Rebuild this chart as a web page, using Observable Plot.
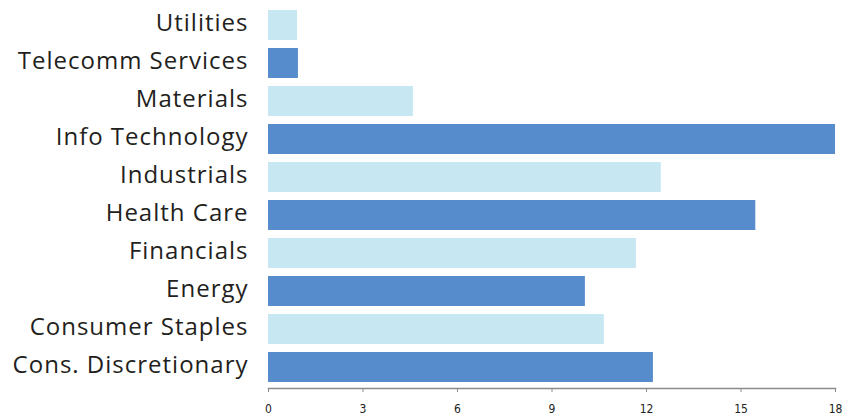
<!DOCTYPE html>
<html>
<head>
<meta charset="utf-8">
<script src="https://cdn.jsdelivr.net/npm/d3@7"></script>
<script src="https://cdn.jsdelivr.net/npm/@observablehq/plot@0.6"></script>
<style>
  html, body { margin: 0; padding: 0; background: #fff; }
  #chart { width: 842px; height: 417px; }
</style>
</head>
<body>
<div id="chart"></div>
<script>
const sectors = ["Utilities", "Telecomm Services", "Materials", "Info Technology", "Industrials", "Health Care", "Financials", "Energy", "Consumer Staples", "Cons. Discretionary"];
const values = [0.92, 0.95, 4.6, 18.0, 12.47, 15.47, 11.68, 10.06, 10.66, 12.22];
const shades = ["light", "dark", "light", "dark", "light", "dark", "light", "dark", "light", "dark"];
const xTicks = [0, 3, 6, 9, 12, 15, 18];

const data = sectors.map((s, i) => ({sector: s, value: values[i], shade: shades[i]}));

const chart = Plot.plot({
  width: 842,
  height: 417,
  marginLeft: 268,
  marginRight: 7,
  marginTop: 1,
  marginBottom: 29,
  style: {background: "#fff"},
  x: {domain: [0, 18]},
  y: {domain: sectors, range: [1, 391], padding: 0.215},
  color: {domain: ["light", "dark"], range: ["#c7e8f3", "#568ccb"]},
  marks: [
    Plot.barX(data, {y: "sector", x: "value", fill: "shade"}),
    Plot.axisY({tickSize: 0, tickPadding: 20, dy: -2, fontSize: 24, fontFamily: "Open Sans", fill: "#231f20", label: null}),
    Plot.axisX({ticks: xTicks, tickFormat: d => String(d), tickSize: 4, tickPadding: 12, stroke: "#8c8c8c", fontSize: 12, fontFamily: "Liberation Sans Narrow, DejaVu Sans Condensed, sans-serif", fill: "#222", label: null}),
    Plot.frame({anchor: "bottom", stroke: "#8c8c8c", strokeWidth: 1.5})
  ]
});
d3.select(chart).selectAll('g[aria-label="y-axis tick label"] text').style("letter-spacing", "1px");
document.getElementById("chart").appendChild(chart);
</script>
</body>
</html>
